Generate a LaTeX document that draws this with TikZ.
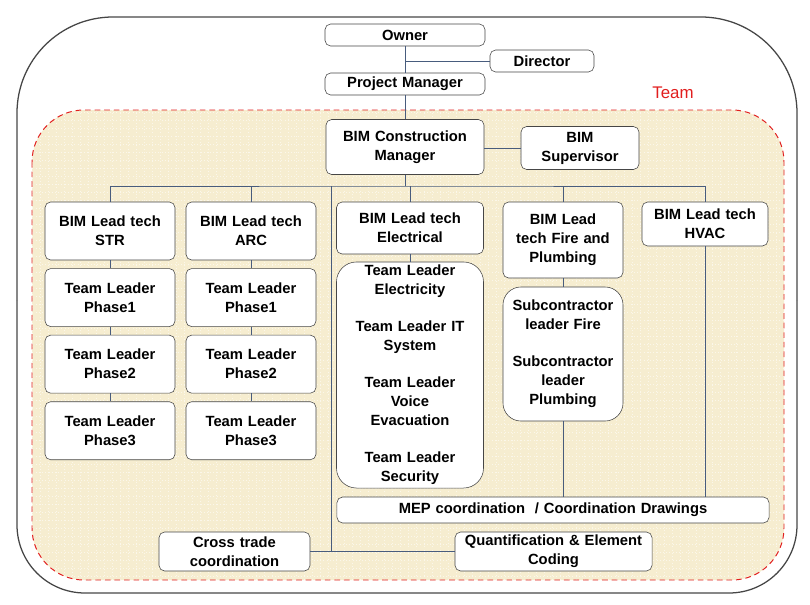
\documentclass[tikz,border=0pt]{standalone}
\usepackage{fontspec}
\setmainfont{Liberation Sans}
\usepackage{tikz}
\usetikzlibrary{positioning, calc}

\definecolor{linkblue}{RGB}{72,92,125}
\definecolor{teambg}{RGB}{246,237,208}
\definecolor{teamred}{RGB}{225,30,30}
\definecolor{boxline}{RGB}{70,70,70}

\begin{document}
\begin{tikzpicture}[x=0.025cm, y=-0.025cm, node distance=0.2cm,
    box/.style={rectangle, draw=boxline, fill=white, rounded corners=4pt, align=center,
        inner xsep=0.05cm, inner ysep=0pt, font=\bfseries\fontsize{10.5}{13.5}\selectfont},
    colbox/.style={box, text width=3.15cm, minimum height=1.45cm},
    link/.style={linkblue, line width=0.6pt}]
        \useasboundingbox (0,0) rectangle (810,605);

        % Outer frame
        \draw[boxline, line width=0.9pt, rounded corners=2.4cm] (17,300) |- (400,17) -| (797,300);
        \draw[boxline, line width=0.9pt, rounded corners=1.7cm] (17,300) |- (400,593) -| (797,300);

        % Team area
        \fill[teambg, rounded corners=1.3cm] (32,110) rectangle (784,580);
        \begin{scope}
            \clip[rounded corners=1.3cm] (32,110) rectangle (784,580);
            \draw[white!55!teambg, line width=0.3pt, dotted] (0,0) grid[step=0.2cm] (810,605);
        \end{scope}
        \draw[teamred, line width=0.7pt, dash pattern=on 4pt off 2.8pt, rounded corners=1.3cm] (32,110) rectangle (784,580);
        \node[teamred, font=\fontsize{12}{14}\selectfont] (team) at (673,93) {Team};

        % Top of the chart
        \node[box, text width=3.9cm, minimum height=0.55cm] (owner) at (405,35) {Owner};
        \node[box, text width=2.5cm, minimum height=0.55cm] (director) at (542,61) {Director};
        \node[box, text width=3.9cm, minimum height=0.55cm] (pm) at (405,84) {Project Manager};
        \node[box, text width=3.85cm, minimum height=1.375cm] (bcm) at (405,147) {BIM Construction\\Manager};
        \node[box, text width=2.85cm, minimum height=1.075cm] (sup) at (580,148) {BIM\\Supervisor};

        % STR and ARC columns
        \node[colbox] (str) at (110,231) {BIM Lead tech\\STR};
        \node[colbox] (arc) at (251,231) {BIM Lead tech\\ARC};
        \foreach \n/\p in {1/str, 2/str1, 3/str2}
            \node[colbox, below=of \p] (str\n) {Team Leader\\Phase\n};
        \foreach \n/\p in {1/arc, 2/arc1, 3/arc2}
            \node[colbox, below=of \p] (arc\n) {Team Leader\\Phase\n};

        % MEP columns
        \node[box, text width=3.575cm, minimum height=1.3cm] (elec) at (410,228) {BIM Lead tech\\Electrical};
        \node[box, text width=3.575cm, minimum height=5.65cm, rounded corners=0.5cm] (electeam) at (410,375)
            {Team Leader\\Electricity\\[0.45cm] Team Leader IT\\System\\[0.45cm] Team Leader\\Voice\\Evacuation\\[0.45cm] Team Leader\\Security};
        \node[box, text width=2.9cm, minimum height=1.9cm] (fire) at (563,240) {BIM Lead\\tech Fire and\\Plumbing};
        \node[box, text width=2.9cm, minimum height=3.35cm, rounded corners=0.45cm] (sub) at (563,354)
            {Subcontractor\\leader Fire\\[0.45cm] Subcontractor\\leader\\Plumbing};
        \node[box, text width=3.05cm, minimum height=1.1cm] (hvac) at (705,224) {BIM Lead tech\\HVAC};

        % Bottom boxes
        \node[box, text width=10.7cm, minimum height=0.65cm] (mep) at (553,510) {MEP coordination \ / Coordination Drawings};
        \node[box, text width=3.675cm, minimum height=0.975cm] (cross) at (234.5,551.5) {Cross trade\\coordination};
        \node[box, text width=4.825cm, minimum height=0.975cm] (quant) at (553.5,551.5) {Quantification \& Element\\Coding};

        % Connectors
        \coordinate (bus) at (405,186);
        \coordinate (spine) at (331,186);
        \draw[link] (owner) -- (pm);
        \draw[link] (director.west) -- (director.west -| owner.south);
        \draw[link] (pm) -- (bcm);
        \draw[link] (bcm.east |- sup.west) -- (sup.west);
        \draw[link] (bcm) -- (bus);
        \draw[link] (str.north) |- (bus) -| (hvac.north);
        \foreach \n in {arc, elec, fire}
            \draw[link] (\n.north) -- (\n.north |- bus);
        \foreach \a/\b in {str/str1, str1/str2, str2/str3, arc/arc1, arc1/arc2, arc2/arc3, elec/electeam, fire/sub}
            \draw[link] (\a) -- (\b);
        \draw[link] (sub.south) -- (sub.south |- mep.north);
        \draw[link] (hvac.south) -- (hvac.south |- mep.north);
        \draw[link] (spine) -- (spine |- cross.east);
        \draw[link] (cross.east) -- (quant.west);
\end{tikzpicture}
\end{document}
